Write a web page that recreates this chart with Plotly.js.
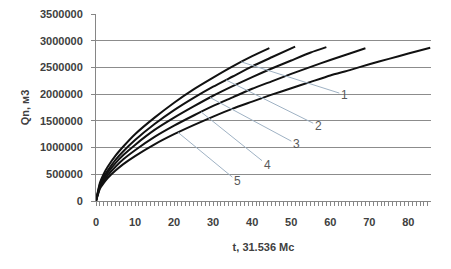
<!DOCTYPE html>
<html>
<head>
<meta charset="utf-8">
<script src="https://cdn.plot.ly/plotly-3.0.1.min.js"></script>
<style>
html,body{margin:0;padding:0;background:#fff;}
#chart{width:451px;height:269px;}
</style>
</head>
<body>
<div id="chart"></div>
<script>
// Curve data (t in units of 31.536 Mc, Qn in m3)
var t1 = [0,1,2,3,5,7,10,15,20,25,30,35,40,44.4];
var q1 = [0,340000,510000,640000,850000,1020000,1250000,1560000,1840000,2090000,2310000,2520000,2710000,2860000];

var t2 = [0,1,2,3,5,7,10,15,20,25,30,35,40,45,51];
var q2 = [0,310000,460000,570000,770000,930000,1140000,1440000,1700000,1930000,2140000,2330000,2520000,2690000,2890000];

var t3 = [0,1,2,3,5,7,10,15,20,25,30,35,40,45,50,55,59];
var q3 = [0,280000,420000,530000,710000,860000,1050000,1330000,1560000,1770000,1970000,2150000,2320000,2480000,2630000,2780000,2880000];

var t4 = [0,1,2,3,5,7,10,15,20,25,30,35,40,45,50,55,60,65,69];
var q4 = [0,260000,380000,480000,640000,780000,950000,1200000,1410000,1600000,1780000,1940000,2100000,2240000,2380000,2510000,2640000,2760000,2860000];

var t5 = [0,1,2,3,5,7,10,15,20,25,30,35,40,45,50,55,60,65,70,75,80,85.6];
var q5 = [0,230000,340000,430000,570000,690000,840000,1060000,1250000,1420000,1580000,1730000,1860000,1990000,2110000,2230000,2350000,2450000,2560000,2660000,2760000,2870000];

var curveLabels = ['1','2','3','4','5'];
var yTickVals = [0,500000,1000000,1500000,2000000,2500000,3000000,3500000];
var xTickVals = [0,10,20,30,40,50,60,70,80];

var series = [[t1,q1],[t2,q2],[t3,q3],[t4,q4],[t5,q5]];

function interp(ts, qs, t){
  for (var i=1;i<ts.length;i++){
    if (t<=ts[i]){
      var f=(t-ts[i-1])/(ts[i]-ts[i-1]);
      return qs[i-1]+f*(qs[i]-qs[i-1]);
    }
  }
  return qs[qs.length-1];
}

var traces = series.map(function(s){
  return {x:s[0], y:s[1], type:'scatter', mode:'lines',
    line:{color:'#111111', width:2, shape:'spline', smoothing:0.5},
    hoverinfo:'none', showlegend:false};
});

// leader line anchor on curve (t) and label position (data coords)
var leadT = [37.2, 33.3, 29.2, 26.9, 21];
var labelPos = [[63.6,1990000],[56.9,1410000],[51.3,1070000],[43.8,680000],[36.2,370000]];

var annotations = curveLabels.map(function(lbl,i){
  var s = series[i];
  return {
    x: leadT[i], y: interp(s[0], s[1], leadT[i]), xref:'x', yref:'y',
    ax: labelPos[i][0], ay: labelPos[i][1], axref:'x', ayref:'y',
    text: lbl, showarrow:true, arrowhead:0, arrowwidth:1, arrowcolor:'#9fb2c4',
    standoff:0, startstandoff:0,
    font:{family:'Liberation Sans, Arial, sans-serif', size:12, color:'#595959'}
  };
});

var tickFont = {family:'Liberation Sans, Arial, sans-serif', size:11, color:'#404040', weight:'bold'};
var titleFont = {family:'Liberation Sans, Arial, sans-serif', size:11, color:'#404040', weight:'bold'};

var layout = {
  width:451, height:269,
  margin:{l:96, r:20, t:14, b:68, pad:0},
  paper_bgcolor:'#ffffff', plot_bgcolor:'#ffffff',
  showlegend:false,
  xaxis:{
    range:[0,85.8], tickvals:xTickVals, ticktext:xTickVals.map(String),
    showgrid:false, zeroline:false,
    showline:true, linecolor:'#868686', linewidth:1,
    ticks:'outside', ticklen:4, tickcolor:'#868686', tickwidth:1,
    minor:{dtick:1, tick0:0, ticks:'outside', ticklen:4, tickcolor:'#868686', tickwidth:1, showgrid:false},
    tickfont:tickFont, ticklabelstandoff:7,
    title:{text:'t, 31.536 Mc', font:titleFont, standoff:16},
    fixedrange:true
  },
  yaxis:{
    range:[0,3500000], tickvals:yTickVals, ticktext:yTickVals.map(String),
    showgrid:true, gridcolor:'#8c8c8c', gridwidth:1,
    zeroline:false,
    showline:true, linecolor:'#868686', linewidth:1,
    ticks:'outside', ticklen:4, tickcolor:'#868686',
    tickfont:tickFont, ticklabelstandoff:6,
    title:{text:'Qn, м3', font:titleFont, standoff:8},
    fixedrange:true
  },
  annotations:annotations
};

Plotly.newPlot('chart', traces, layout, {staticPlot:true, displayModeBar:false});
</script>
</body>
</html>
